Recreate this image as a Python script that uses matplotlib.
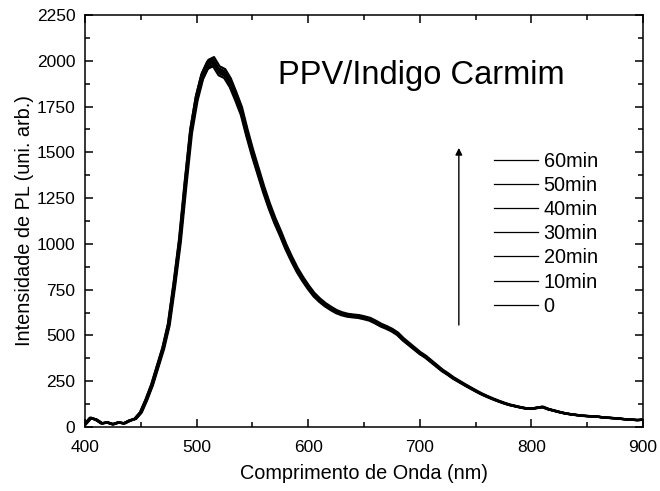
import matplotlib
matplotlib.use("Agg")
import matplotlib.pyplot as plt
from matplotlib.ticker import MultipleLocator
import numpy as np

plt.rcParams['font.family'] = ['Liberation Sans', 'DejaVu Sans']

wavelength = list(range(400, 905, 5))
base_intensity = [15, 50, 40, 20, 25, 15, 25, 20, 35, 45,
                  80, 150, 230, 330, 430, 560, 780, 1020, 1330, 1620,
                  1800, 1920, 1985, 2000, 1950, 1935, 1885, 1810, 1730, 1610,
                  1500, 1400, 1300, 1210, 1130, 1060, 985, 920, 860, 810,
                  765, 725, 695, 670, 650, 632, 620, 612, 608, 605,
                  598, 590, 575, 558, 545, 530, 510, 480, 455, 430,
                  405, 385, 360, 335, 310, 290, 268, 250, 232, 215,
                  198, 182, 168, 155, 143, 132, 122, 115, 108, 102,
                  100, 105, 110, 98, 90, 82, 75, 70, 66, 62,
                  60, 58, 56, 52, 50, 48, 45, 42, 40, 38, 40]
series_labels = ['60min', '50min', '40min', '30min', '20min', '10min', '0']
series_scale = [1.000, 1.010, 1.005, 0.995, 1.000, 0.990, 0.985]
series_shift = [0.0, 0.6, -0.5, 0.3, -0.8, 0.8, -0.3]

fig = plt.figure(figsize=(6.6, 4.91), dpi=100)
ax = fig.add_axes([0.1288, 0.1303, 0.8454, 0.8392])

wl = np.array(wavelength, dtype=float)
base = np.array(base_intensity, dtype=float)
for lab, sc, sh in zip(series_labels, series_scale, series_shift):
    ax.plot(wl + sh, base * sc, color='black', lw=1.6, label=lab)

ax.set_xlim(400, 900)
ax.set_ylim(0, 2250)
ax.xaxis.set_major_locator(MultipleLocator(100))
ax.xaxis.set_minor_locator(MultipleLocator(50))
ax.yaxis.set_major_locator(MultipleLocator(250))
ax.yaxis.set_minor_locator(MultipleLocator(125))
ax.tick_params(which='both', direction='in', top=True, right=True,
               labelsize=12.5, width=1.1, pad=7)
ax.tick_params(axis='x', which='both', pad=9)
ax.tick_params(which='major', length=6)
ax.tick_params(which='minor', length=3.5)
for s in ax.spines.values():
    s.set_linewidth(1.1)

ax.set_xlabel('Comprimento de Onda (nm)', fontsize=14.3, labelpad=7)
ax.set_ylabel('Intensidade de PL (uni. arb.)', fontsize=14.3, labelpad=2)

ax.text(573, 1922, 'PPV/Indigo Carmim', fontsize=23.5, va='center', ha='left')
ax.annotate('', xy=(735, 1524), xytext=(735, 557),
            arrowprops=dict(arrowstyle='-|>', color='black', lw=1.0,
                            mutation_scale=10, shrinkA=0, shrinkB=0))

leg = ax.legend(loc='upper left', bbox_to_anchor=(0.733, 0.668), frameon=False,
                fontsize=14.3, handlelength=2.2, handletextpad=0.3,
                labelspacing=0.26, borderaxespad=0, borderpad=0)
for h in leg.get_lines():
    h.set_linewidth(0.9)

fig.savefig('out.png', dpi=100)
